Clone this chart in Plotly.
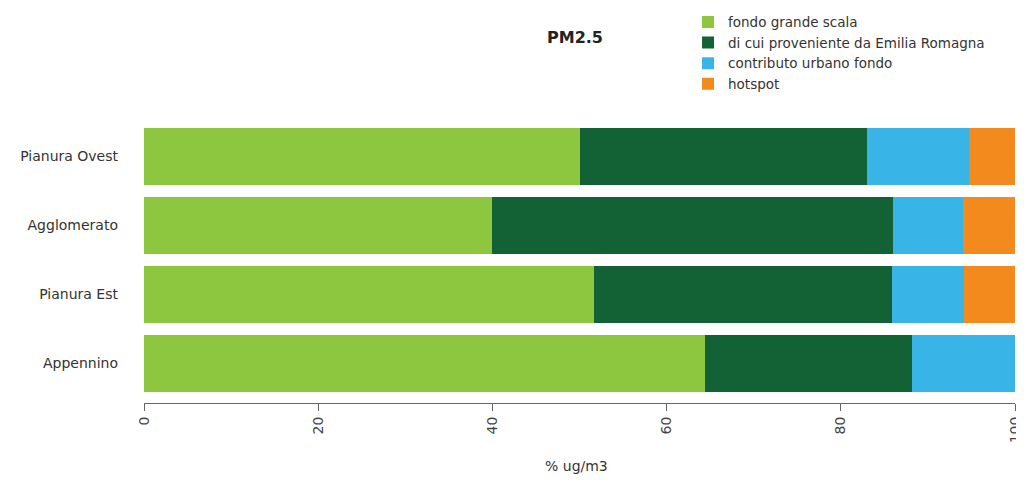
import plotly.graph_objects as go

categories = ["Appennino", "Pianura Est", "Agglomerato", "Pianura Ovest"]
fondo_grande_scala = [64.4, 51.7, 40.0, 50.0]
emilia_romagna = [23.8, 34.2, 46.0, 33.0]
urbano_fondo = [11.8, 8.2, 8.0, 11.7]
hotspot = [0.0, 5.9, 6.0, 5.3]

series_names = ["fondo grande scala", "di cui proveniente da Emilia Romagna",
                "contributo urbano fondo", "hotspot"]
series_values = [fondo_grande_scala, emilia_romagna, urbano_fondo, hotspot]
series_colors = ["#8DC63F", "#136235", "#38B4E6", "#F28A1E"]

x_ticks = [0, 20, 40, 60, 80, 100]

fig = go.Figure()
for name, vals, col in zip(series_names, series_values, series_colors):
    fig.add_trace(go.Bar(
        y=categories, x=vals, name=name, orientation="h",
        marker=dict(color=col, line=dict(width=0)),
    ))

font_family = "DejaVu Sans, Liberation Sans, Arial, sans-serif"
fig.update_layout(
    barmode="stack",
    bargap=0.174,
    width=1016, height=475,
    margin=dict(l=136, r=9, t=114, b=80, autoexpand=False),
    paper_bgcolor="white", plot_bgcolor="white",
    font=dict(family=font_family, size=14, color="#333333"),
    showlegend=True,
    legend=dict(
        x=0.6246, y=1.41, xanchor="left", yanchor="top",
        font=dict(size=13.5, color="#333333"),
        traceorder="normal",
        tracegroupgap=0,
        bgcolor="rgba(0,0,0,0)",
    ),
    xaxis=dict(
        range=[0, 100], tickvals=x_ticks, ticktext=[str(v) for v in x_ticks],
        tickangle=-90, ticks="outside", ticklen=7, tickcolor="#666666",
        showline=True, linecolor="#666666", linewidth=1,
        showgrid=False, zeroline=False, automargin=False,
        tickfont=dict(size=14, color="#444444"),
    ),
    yaxis=dict(
        type="category", categoryorder="array", categoryarray=categories,
        range=[-0.573, 3.5], showgrid=False, zeroline=False, showline=False,
        ticks="", ticklabelstandoff=25, automargin=False,
        tickfont=dict(size=14, color="#333333"),
    ),
    annotations=[
        dict(text="<b>PM2.5</b>", x=0.495, y=1.302, xref="paper", yref="paper",
             xanchor="center", yanchor="middle", showarrow=False,
             font=dict(size=16, color="#222222")),
        dict(text="% ug/m3", x=0.497, y=-0.224, xref="paper", yref="paper",
             xanchor="center", yanchor="middle", showarrow=False,
             font=dict(size=14, color="#333333")),
    ],
)

fig.write_html("out.html")
